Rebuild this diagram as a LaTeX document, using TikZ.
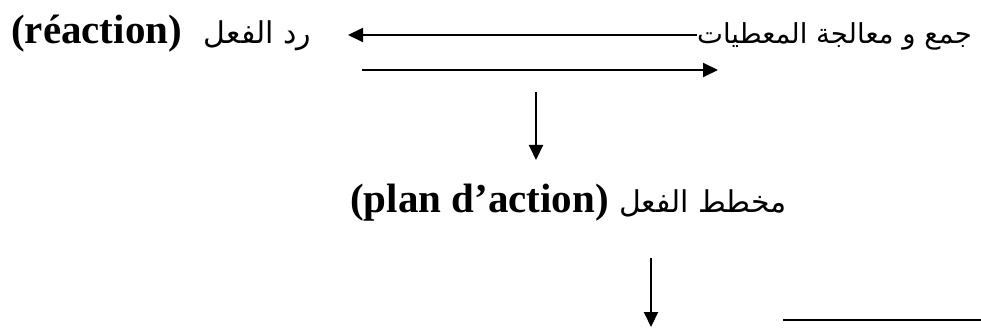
\documentclass[tikz,border=0pt]{standalone}
\usepackage{fontspec}
\setmainfont{Liberation Serif}
\newfontfamily\arabicfont[Script=Arabic]{DejaVu Sans}
\TeXXeTstate=1
\usetikzlibrary{arrows.meta}
\newcommand\artext[2][30]{{\mdseries\arabicfont\fontsize{#1}{36}\selectfont\beginR #2\endR}}
\begin{document}
\begin{tikzpicture}[x=1pt,y=-1pt,
  lbl/.style={inner sep=0pt, font=\fontsize{41}{48}\selectfont\bfseries},
  ar/.style={line width=2pt, -{Triangle[length=15pt,width=14pt]}},
  plain/.style={line width=2pt}]
\useasboundingbox (0,0) rectangle (981,328);
% labels
\node[lbl, anchor=base west] (react) at (11,44)
  {(réaction)\hspace{22pt}\artext{رد الفعل}};
\node[lbl, anchor=base east] (collect) at (972,44)
  {\artext[27.5]{جمع و معالجة المعطيات}};
\node[lbl, anchor=base west] (plan) at (350,213)
  {(plan d’action) \artext{مخطط الفعل}};
% free ends of the connectors
\coordinate (aL) at (348,35);
\coordinate (bL) at (362,70);
\coordinate (bR) at (718,70);
\coordinate (cT) at (536,92);
\coordinate (cB) at (536,160);
\coordinate (dT) at (651,258);
\coordinate (dB) at (651,327);
\coordinate (eL) at (783,320);
\coordinate (eR) at (981,320);
% connectors
\draw[ar] (collect.west |- aL) -- (aL);
\draw[ar] (bL) -- (bR);
\draw[ar] (cT) -- (cB);
\draw[ar] (dT) -- (dB);
\draw[plain] (eL) -- (eR);
\end{tikzpicture}
\end{document}
